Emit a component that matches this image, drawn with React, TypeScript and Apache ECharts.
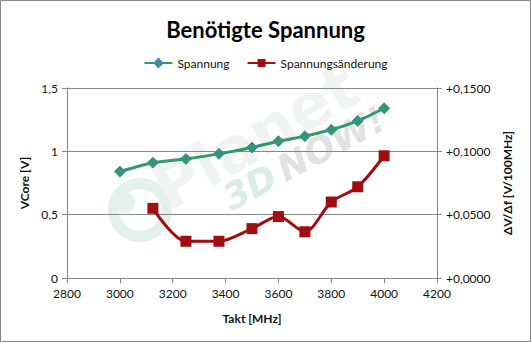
import React, { useEffect, useRef } from "react";
import * as echarts from "echarts";

const titleText = "Benötigte Spannung";
const xName = "Takt [MHz]";
const yLeftName = "VCore [V]";
const yRightName = "ΔV/Δf [V/100MHz]";

const voltMHz = [3000, 3125, 3250, 3375, 3500, 3600, 3700, 3800, 3900, 4000];
const voltValues = [0.84, 0.91, 0.94, 0.98, 1.03, 1.08, 1.12, 1.17, 1.24, 1.34];

const deltaMHz = [3125, 3250, 3375, 3500, 3600, 3700, 3800, 3900, 4000];
const deltaValues = [0.055, 0.029, 0.029, 0.039, 0.0485, 0.0365, 0.060, 0.072, 0.0965];

const seriesNames = ["Spannung", "Spannungsänderung"];

const FONT = "Lato, 'DejaVu Sans', sans-serif";
const AXIS = "#868686";

export default function App() {
  const ref = useRef<HTMLDivElement>(null);
  useEffect(() => {
    if (!ref.current) return;
    const chart = echarts.init(ref.current, null, { renderer: "svg" });
    chart.setOption({
      animation: false,
      backgroundColor: "#ffffff",
      textStyle: { fontFamily: FONT },
      title: {
        text: titleText,
        left: "center",
        top: 13,
        textStyle: { fontFamily: FONT, fontSize: 22, fontWeight: "bold", color: "#000" },
      },
      legend: {
        top: 52,
        left: "center",
        itemWidth: 28,
        itemHeight: 10,
        itemGap: 17,
        textStyle: { fontFamily: FONT, fontSize: 12, color: "#111" },
        data: seriesNames,
      },
      grid: { left: 67, right: 94, top: 88, bottom: 64 },
      graphic: [
        {
          type: "rect",
          shape: { x: 0.5, y: 0.5, width: 530, height: 341 },
          style: { fill: "none", stroke: AXIS, lineWidth: 1 },
          z: 100,
        },
        {
          type: "ring",
          shape: { cx: 140, cy: 210, r: 32, r0: 21 },
          style: { fill: "#e2f1ec" },
          z: -1,
        },
        {
          type: "circle",
          shape: { cx: 124, cy: 202, r: 11 },
          style: { fill: "#e2f1ec" },
          z: -1,
        },
        {
          type: "text",
          x: 174,
          y: 220,
          rotation: (30 * Math.PI) / 180,
          style: {
            text: "Planet",
            fontFamily: "'DejaVu Sans', sans-serif",
            fontWeight: "bold",
            fontSize: 62,
            fill: "#f1f3f2",
            textVerticalAlign: "bottom",
          },
          z: -1,
        },
        {
          type: "text",
          x: 234,
          y: 216,
          rotation: (28 * Math.PI) / 180,
          style: {
            text: "3D",
            fontFamily: "'DejaVu Sans', sans-serif",
            fontWeight: "bold",
            fontStyle: "italic",
            fontSize: 36,
            fill: "#daede4",
            textVerticalAlign: "bottom",
          },
          z: -1,
        },
        {
          type: "text",
          x: 288,
          y: 187,
          rotation: (28 * Math.PI) / 180,
          style: {
            text: "NOW!",
            fontFamily: "'DejaVu Sans', sans-serif",
            fontWeight: "bold",
            fontStyle: "italic",
            fontSize: 36,
            fill: "#e2e2e2",
            textVerticalAlign: "bottom",
          },
          z: -1,
        },
      ],
      xAxis: {
        type: "value",
        min: 2800,
        max: 4200,
        interval: 200,
        name: xName,
        nameLocation: "middle",
        nameGap: 34,
        nameTextStyle: { fontFamily: FONT, fontSize: 12, fontWeight: "bold", color: "#111" },
        axisLine: { show: true, lineStyle: { color: AXIS, width: 1 } },
        axisTick: { show: true, length: 5, lineStyle: { color: AXIS } },
        axisLabel: {
          fontFamily: FONT,
          fontSize: 12,
          color: "#111",
          margin: 9,
          formatter: (v: number) => String(v),
        },
        splitLine: { show: false },
      },
      yAxis: [
        {
          type: "value",
          min: 0,
          max: 1.5,
          interval: 0.5,
          name: yLeftName,
          nameLocation: "middle",
          nameRotate: 90,
          nameGap: 29,
          nameTextStyle: { fontFamily: FONT, fontSize: 12, fontWeight: "bold", color: "#111" },
          axisLine: { show: true, lineStyle: { color: AXIS, width: 1 } },
          axisTick: { show: true, length: 5, lineStyle: { color: AXIS } },
          axisLabel: {
            fontFamily: FONT,
            fontSize: 12,
            color: "#111",
            margin: 9,
            formatter: (v: number) => String(v).replace(".", ","),
          },
          splitLine: { show: true, lineStyle: { color: AXIS, width: 1 } },
        },
        {
          type: "value",
          min: 0,
          max: 0.15,
          interval: 0.05,
          position: "right",
          name: yRightName,
          nameLocation: "middle",
          nameRotate: 90,
          nameGap: 61,
          nameTextStyle: { fontFamily: FONT, fontSize: 12, fontWeight: "bold", color: "#111" },
          axisLine: { show: true, lineStyle: { color: AXIS, width: 1 } },
          axisTick: { show: true, length: 5, lineStyle: { color: AXIS } },
          axisLabel: {
            fontFamily: FONT,
            fontSize: 12,
            color: "#111",
            margin: 9,
            formatter: (v: number) => "+" + v.toFixed(4).replace(".", ","),
          },
          splitLine: { show: false },
        },
      ],
      series: [
        {
          name: seriesNames[0],
          type: "line",
          yAxisIndex: 0,
          data: voltMHz.map((x, i) => [x, voltValues[i]]),
          smooth: 0.2,
          symbol: "diamond",
          symbolSize: 11,
          lineStyle: { color: "#2f9a6a", width: 3 },
          itemStyle: { color: "#2f9a6a", borderColor: "#4f81bd", borderWidth: 1 },
          z: 3,
        },
        {
          name: seriesNames[1],
          type: "line",
          yAxisIndex: 1,
          data: deltaMHz.map((x, i) => [x, deltaValues[i]]),
          smooth: 0.3,
          symbol: "rect",
          symbolSize: 11,
          lineStyle: { color: "#a20d12", width: 3 },
          itemStyle: { color: "#a20d12" },
          z: 3,
        },
      ],
    });
    return () => chart.dispose();
  }, []);
  return (
    <div
      ref={ref}
      style={{ position: "fixed", left: 0, top: 0, width: 531, height: 342 }}
    />
  );
}
